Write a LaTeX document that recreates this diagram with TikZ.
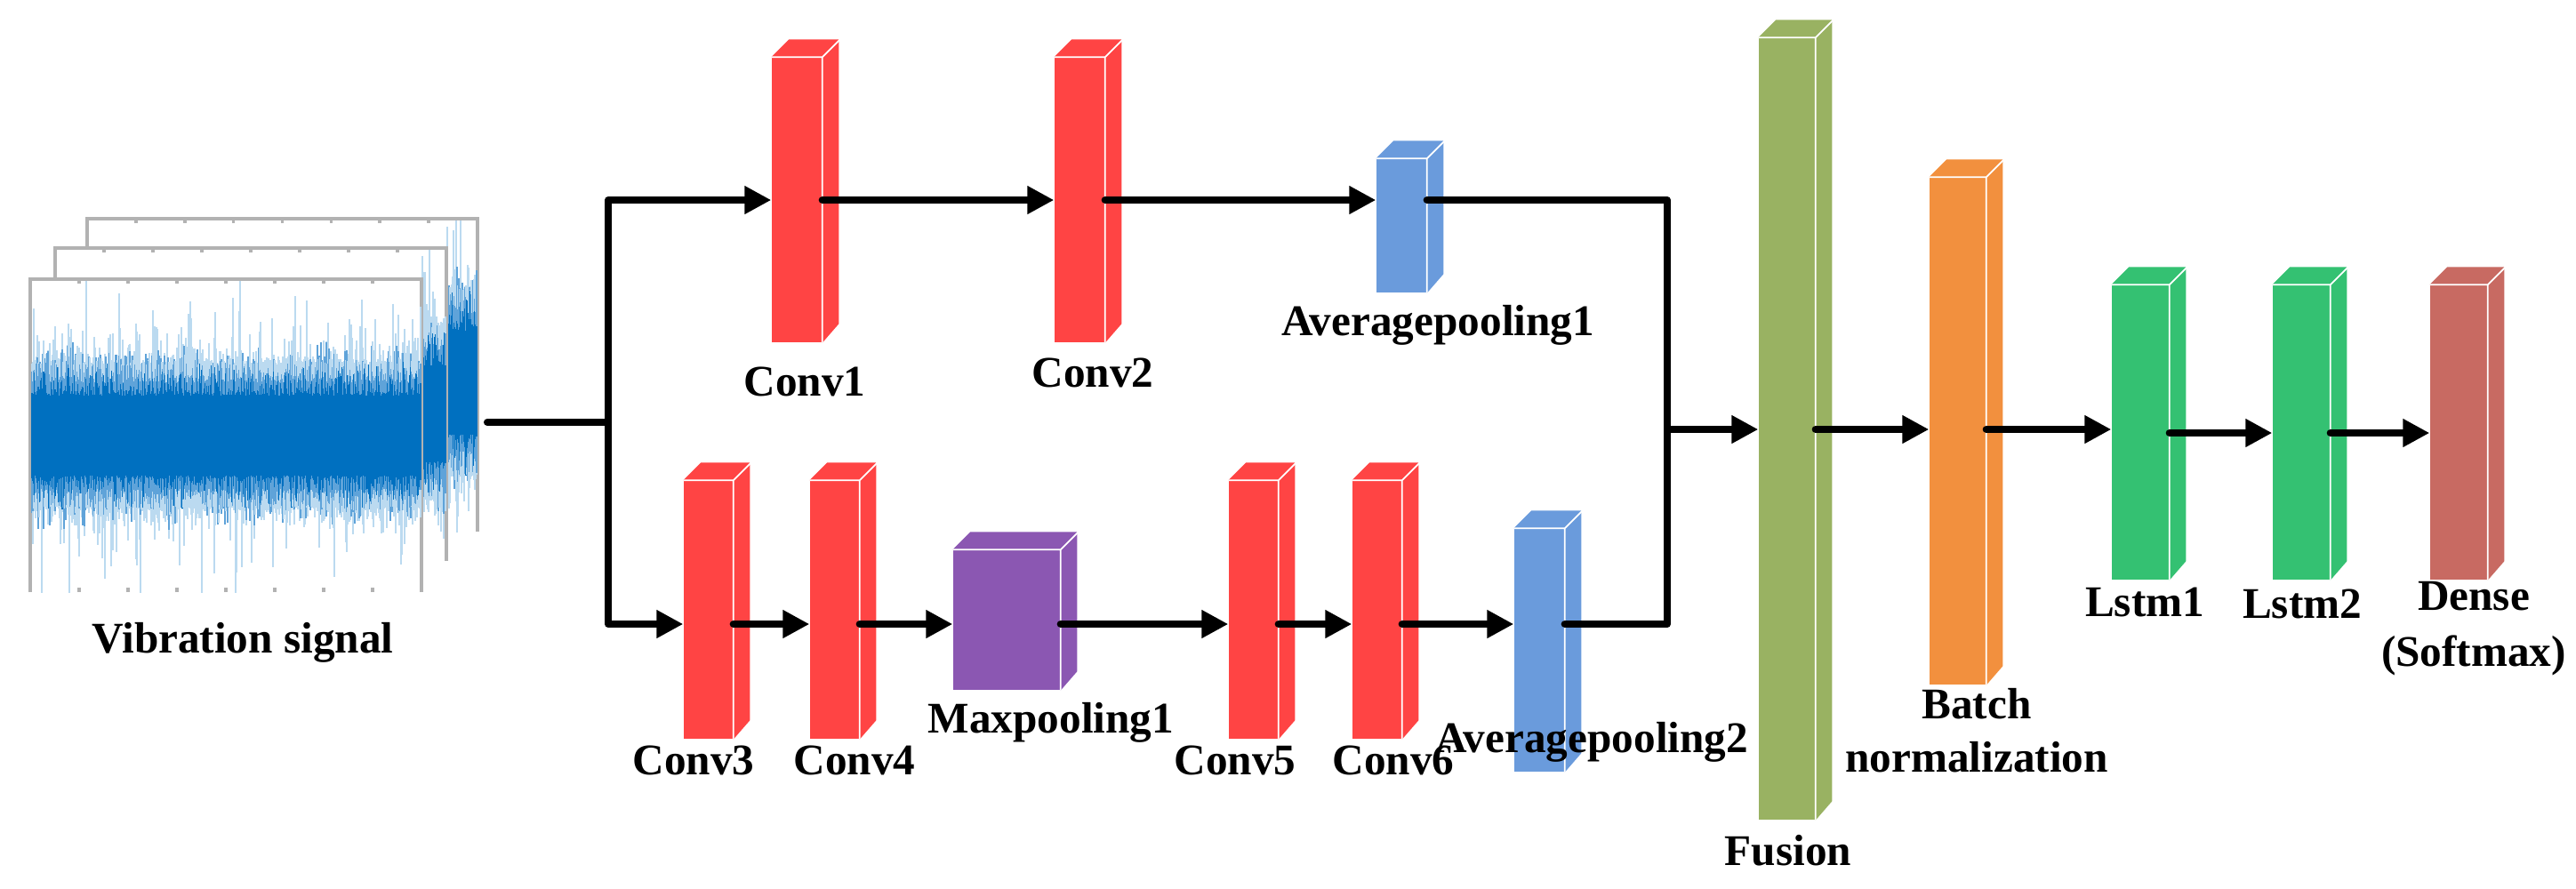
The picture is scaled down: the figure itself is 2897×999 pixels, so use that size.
\documentclass[tikz,border=0pt]{standalone}
\usepackage{fontspec}
\setmainfont{Liberation Serif}
\usetikzlibrary{arrows.meta}
\definecolor{cred}{HTML}{FF4444}
\definecolor{cblue}{HTML}{6A9BDC}
\definecolor{cpurple}{HTML}{8B57B2}
\definecolor{colive}{HTML}{99B262}
\definecolor{corange}{HTML}{F2903E}
\definecolor{cgreen}{HTML}{34C172}
\definecolor{cdense}{HTML}{C86A62}
\definecolor{nlight}{HTML}{BBDAF0}
\definecolor{nmid}{HTML}{5FA3D9}
\definecolor{ndark}{HTML}{0070C0}
\newcommand\blk[6]{%
  \node[inner sep=0,draw=none,fill=#6,minimum width={(#3-#2)*0.01cm},minimum height={(#5-#4)*0.01cm}] (#1) at ({(#2+#3)/2},{(#4+#5)/2}) {};
  \fill[#6] (#1.north west) -- ++(20,-20) -- ++({#3-#2},0) -- ++(0,{#5-#4}) -- (#1.south east) -- (#1.north east) -- cycle;
  \draw[white,line width=0.5pt] (#1.north west) -- (#1.north east) -- ++(20,-20) (#1.north east) -- (#1.south east);
}
\newcommand\frm[4]{% x1 y1 x2 y2
  \fill[white] (#1,#2) rectangle (#3,#4);
  \draw[gray!60,line width=1pt] (#1,#4) -- (#1,#2) -- (#3,#2) -- (#3,#4);
  \foreach \t in {0,...,8}{\draw[gray!60,line width=1pt] ({#1+(#3-#1)*\t/8},#2) -- ++(0,5) ({#1+(#3-#1)*\t/8},#4) -- ++(0,-5);}
}
\newcommand\noise[4]{% xfrom xto center ampscale
  \foreach \xx in {#1,...,#2}{%
    \pgfmathsetmacro\ua{(80+200*rnd*rnd*rnd*rnd)*#4}\pgfmathsetmacro\da{(80+200*rnd*rnd*rnd*rnd)*#4}%
    \pgfmathsetmacro\ub{(60+50*rnd*rnd)*#4}\pgfmathsetmacro\db{(60+50*rnd*rnd)*#4}%
    \pgfmathsetmacro\uc{(45+40*rnd*rnd)*#4}\pgfmathsetmacro\dc{(45+40*rnd*rnd)*#4}%
    \draw[nlight,line width=0.7pt] (\xx,#3-\ua) -- (\xx,#3+\da);
    \draw[nmid,line width=0.7pt] (\xx,#3-\ub) -- (\xx,#3+\db);
    \draw[ndark,line width=0.7pt] (\xx,#3-\uc) -- (\xx,#3+\dc);
  }}
\tikzset{
  lbl/.style={font=\fontsize{14}{15}\selectfont\bfseries,inner sep=0},
  ln/.style={line width=2.3pt,line cap=round,line join=round},
  arr/.style={ln,-{Triangle[length=0.3cm,width=0.3cm]}},
}
\begin{document}
\begin{tikzpicture}[x=0.01cm,y=-0.01cm]
\useasboundingbox (0,0) rectangle (2897,999);
\pgfmathsetseed{11}
% signal frames
\frm{98}{246}{537}{598}
\begin{scope}
\clip (98,248) rectangle (537,598);
\noise{502}{536}{430}{1.3}
\end{scope}
\frm{62}{279}{502}{631}
\begin{scope}
\clip (62,281) rectangle (502,631);
\noise{474}{501}{465}{1.2}
\end{scope}
\frm{34}{314}{474}{666}
\begin{scope}
\clip (34,316) rectangle (474,666);
\noise{36}{473}{490}{1}
\end{scope}
\node[lbl] (sig) at (273,723) {Vibration signal};
% blocks
\blk{c1}{868}{924}{65}{385}{cred}
\blk{c2}{1186}{1242}{65}{385}{cred}
\blk{a1}{1548}{1604}{179}{329}{cblue}
\blk{c3}{769}{824}{541}{831}{cred}
\blk{c4}{911}{966}{541}{831}{cred}
\blk{m1}{1072}{1192}{619}{776}{cpurple}
\blk{c5}{1382}{1437}{541}{831}{cred}
\blk{c6}{1521}{1576}{541}{831}{cred}
\blk{a2}{1703}{1759}{595}{868}{cblue}
\blk{fu}{1978}{2041}{43}{922}{colive}
\blk{bn}{2170}{2233}{200}{770}{corange}
\blk{l1}{2375}{2439}{321}{652}{cgreen}
\blk{l2}{2556}{2620}{321}{652}{cgreen}
\blk{de}{2733}{2797}{321}{652}{cdense}
% labels
\node[lbl] (t1) at (905,429) {Conv1};
\node[lbl] (t2) at (1229,419) {Conv2};
\node[lbl] (t3) at (1617,366) {Averagepooling1};
\node[lbl] (t4) at (780,855) {Conv3};
\node[lbl] (t5) at (961,855) {Conv4};
\node[lbl] (t6) at (1182,813) {Maxpooling1};
\node[lbl] (t7) at (1389,855) {Conv5};
\node[lbl] (t8) at (1567,855) {Conv6};
\node[lbl] (t9) at (1790,835) {Averagepooling2};
\node[lbl] (t10) at (2011,957) {Fusion};
\node[lbl,align=center] (t11) at (2223,822) {Batch\\[2pt]normalization};
\node[lbl] (t12) at (2412,677) {Lstm1};
\node[lbl] (t13) at (2589,679) {Lstm2};
\node[lbl,align=center] (t14) at (2782,707) {Dense\\[3pt](Softmax)};
% connectors
\coordinate (in) at (548,475);
\coordinate (j) at (684,475);
\coordinate (jr) at (1875,483);
\draw[ln] (in) -- (j);
\draw[arr] (j) |- (c1.west |- 0,225);
\draw[arr] (j) |- (c3.west |- 0,702);
\draw[arr] (c1.east |- 0,225) -- (c2.west |- 0,225);
\draw[arr] (c2.east |- 0,225) -- (a1.west |- 0,225);
\draw[arr] (a1.east |- 0,225) -| (jr) -- (fu.west |- jr);
\draw[ln] (a2.east |- 0,702) -| (jr);
\draw[arr] (c3.east |- 0,702) -- (c4.west |- 0,702);
\draw[arr] (c4.east |- 0,702) -- (m1.west |- 0,702);
\draw[arr] (m1.east |- 0,702) -- (c5.west |- 0,702);
\draw[arr] (c5.east |- 0,702) -- (c6.west |- 0,702);
\draw[arr] (c6.east |- 0,702) -- (a2.west |- 0,702);
\draw[arr] (fu.east |- jr) -- (bn.west |- jr);
\draw[arr] (bn.east |- jr) -- (l1.west |- jr);
\draw[arr] (l1.east |- 0,487) -- (l2.west |- 0,487);
\draw[arr] (l2.east |- 0,487) -- (de.west |- 0,487);
\end{tikzpicture}
\end{document}
